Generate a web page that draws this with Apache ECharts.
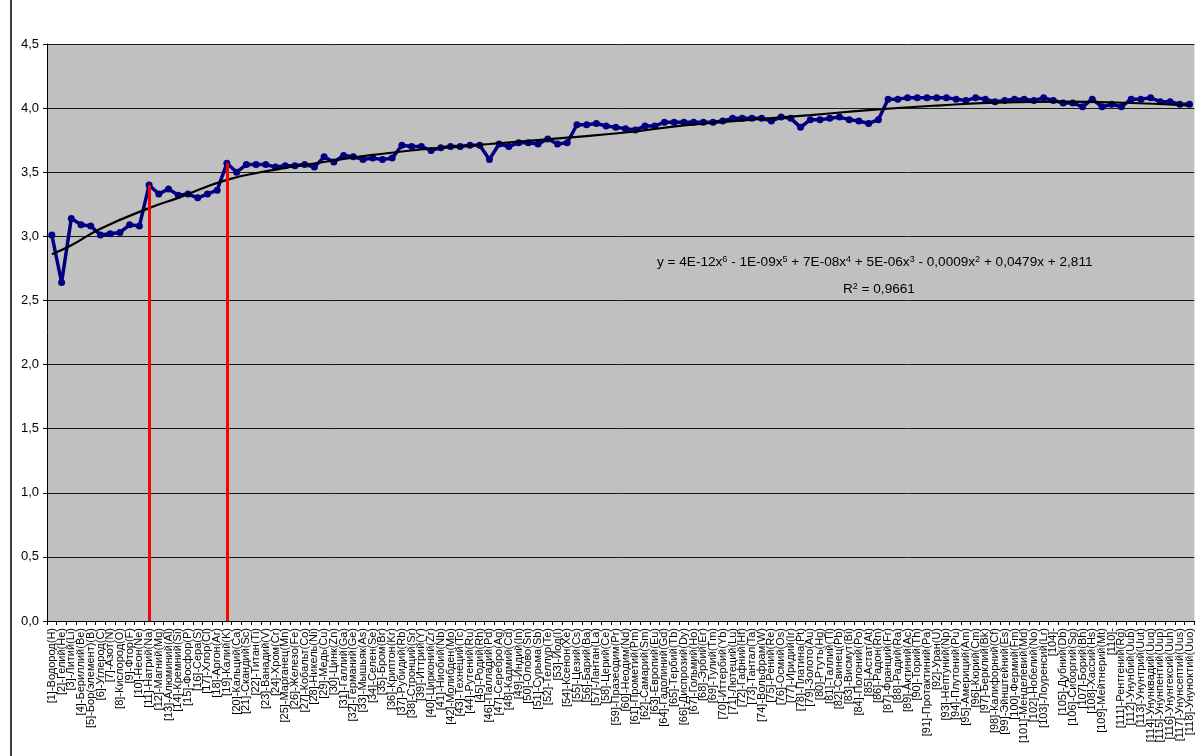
<!DOCTYPE html>
<html>
<head>
<meta charset="utf-8">
<script src="https://cdn.jsdelivr.net/npm/echarts@6/dist/echarts.min.js"></script>
<style>
html,body{margin:0;padding:0;background:#fff;}
#chart{width:1195px;height:756px;}
</style>
</head>
<body>
<div id="chart"></div>
<script>
var elementNames = [
"Водород(H)","Гелий(He)","Литий(Li)","Бериллий(Be)","Бор(элемент)(B)","Углерод(C)","Азот(N)","Кислород(O)","Фтор(F)","Неон(Ne)",
"Натрий(Na)","Магний(Mg)","Алюминий(Al)","Кремний(Si)","Фосфор(P)","Сера(S)","Хлор(Cl)","Аргон(Ar)","Калий(K)","Кальций(Ca)",
"Скандий(Sc)","Титан(Ti)","Ванадий(V)","Хром(Cr)","Марганец(Mn)","Железо(Fe)","Кобальт(Co)","Никель(Ni)","Медь(Cu)","Цинк(Zn)",
"Галлий(Ga)","Германий(Ge)","Мышьяк(As)","Селен(Se)","Бром(Br)","Криптон(Kr)","Рубидий(Rb)","Стронций(Sr)","Иттрий(Y)","Цирконий(Zr)",
"Ниобий(Nb)","Молибден(Mo)","Технеций(Tc)","Рутений(Ru)","Родий(Rh)","Палладий(Pd)","Серебро(Ag)","Кадмий(Cd)","Индий(In)","Олово(Sn)",
"Сурьма(Sb)","Теллур(Te)","Йод(I)","Ксенон(Xe)","Цезий(Cs)","Барий(Ba)","Лантан(La)","Церий(Ce)","Празеодим(Pr)","Неодим(Nd)",
"Прометий(Pm)","Самарий(Sm)","Европий(Eu)","Гадолиний(Gd)","Тербий(Tb)","Диспрозий(Dy)","Гольмий(Ho)","Эрбий(Er)","Тулий(Tm)","Иттербий(Yb)",
"Лютеций(Lu)","Гафний(Hf)","Тантал(Ta)","Вольфрам(W)","Рений(Re)","Осмий(Os)","Иридий(Ir)","Платина(Pt)","Золото(Au)","Ртуть(Hg)",
"Таллий(Tl)","Свинец(Pb)","Висмут(Bi)","Полоний(Po)","Астат(At)","Радон(Rn)","Франций(Fr)","Радий(Ra)","Актиний(Ac)","Торий(Th)",
"Протактиний(Pa)","Уран(U)","Нептуний(Np)","Плутоний(Pu)","Америций(Am)","Кюрий(Cm)","Берклий(Bk)","Калифорний(Cf)","Эйнштейний(Es)","Фермий(Fm)",
"Менделевий(Md)","Нобелий(No)","Лоуренсий(Lr)","","Дубний(Db)","Сиборгий(Sg)","Борий(Bh)","Хассий(Hs)","Мейтнерий(Mt)","",
"Рентгений(Rg)","Унунбий(Uub)","Унунтрий(Uut)","Унунквадий(Uuq)","Унунпентий(Uup)","Унунгексий(Uuh)","Унунсептий(Uus)","Унуноктий(Uuo)"
];
var values = [
3.01,2.64,3.14,3.09,3.08,3.01,3.02,3.03,3.09,3.08,
3.40,3.33,3.37,3.32,3.33,3.30,3.33,3.36,3.57,3.50,
3.56,3.56,3.56,3.54,3.55,3.55,3.56,3.54,3.62,3.58,
3.63,3.62,3.60,3.61,3.60,3.61,3.71,3.70,3.70,3.67,
3.69,3.70,3.70,3.71,3.71,3.60,3.72,3.70,3.73,3.73,
3.72,3.76,3.72,3.73,3.87,3.87,3.88,3.86,3.85,3.84,
3.83,3.86,3.86,3.89,3.89,3.89,3.89,3.89,3.89,3.90,
3.92,3.92,3.92,3.92,3.90,3.93,3.92,3.85,3.91,3.91,
3.92,3.93,3.91,3.90,3.88,3.91,4.07,4.07,4.08,4.08,
4.08,4.08,4.08,4.07,4.06,4.08,4.07,4.05,4.06,4.07,
4.07,4.06,4.08,4.06,4.04,4.04,4.01,4.07,4.01,4.03,
4.01,4.07,4.07,4.08,4.05,4.05,4.03,4.03
];
// trendline: element number -> value
var trendX = [1,3,6,11,14,19,24,29,34,40,46,54,60,66,73,79,85,92,99,105,112,118];
var trendY = [2.86,2.93,3.06,3.22,3.30,3.44,3.52,3.58,3.635,3.685,3.72,3.77,3.81,3.865,3.91,3.945,3.985,4.02,4.045,4.05,4.04,4.02];
// elements marked with red vertical lines
var markedElements = [11,19];
var yTicks = {min:0, max:4.5, interval:0.5};
// equation shown as rich text: {s|..} marks superscripts
var equationText = "y = 4E-12x{s|6} - 1E-09x{s|5} + 7E-08x{s|4} + 5E-06x{s|3} - 0,0009x{s|2} + 0,0479x + 2,811";
var r2Text = "R{s|2} = 0,9661";

var categories = elementNames.map(function(n,i){ return "[" + (i+1) + "]-" + n; });

var chart = echarts.init(document.getElementById('chart'));
var font = "'Liberation Sans', Arial, sans-serif";
var narrow = "'Liberation Sans Narrow', 'Liberation Sans', Arial, sans-serif";
var supStyle = {s:{fontSize:9,fontFamily:narrow,verticalAlign:'top',padding:[0,0,6,0],fill:'#000'}};
var option = {
  animation:false,
  backgroundColor:'#ffffff',
  grid:{left:47,right:0,top:44,bottom:135,show:true,backgroundColor:'#C0C0C0',borderWidth:0},
  xAxis:{
    type:'category',
    data:categories,
    boundaryGap:true,
    axisLine:{show:true,lineStyle:{color:'#000',width:1}},
    axisTick:{show:true,interval:0,length:4,lineStyle:{color:'#000'}},
    axisLabel:{interval:0,rotate:90,fontSize:11,color:'#000',fontFamily:font,margin:7},
    splitLine:{show:false}
  },
  yAxis:{
    type:'value',
    min:yTicks.min,max:yTicks.max,interval:yTicks.interval,
    axisLine:{show:true,lineStyle:{color:'#000',width:1}},
    axisTick:{show:true,length:4,lineStyle:{color:'#000'}},
    axisLabel:{fontSize:13,color:'#000',fontFamily:font,margin:8,
      formatter:function(v){return v.toFixed(1).replace('.',',');}},
    splitLine:{show:true,lineStyle:{color:'#1a1a1a',width:1}}
  },
  series:[
    {
      type:'line',
      data:values,
      symbol:'circle',symbolSize:7,
      lineStyle:{color:'#000080',width:3.5},
      itemStyle:{color:'#000080'},
      z:3,
      markLine:{
        silent:true,symbol:'none',
        label:{show:false},
        lineStyle:{color:'#FF0000',width:3,type:'solid'},
        z:10,
        data:markedElements.map(function(n){
          return [{coord:[categories[n-1],0]},{coord:[categories[n-1],values[n-1]]}];
        })
      }
    },
    {
      type:'line',
      data:trendX.map(function(x,i){return [x-1,trendY[i]];}),
      smooth:true,
      symbol:'none',
      lineStyle:{color:'#000',width:2.2},
      z:4
    }
  ],
  graphic:[
    {type:'line',shape:{x1:11,y1:0,x2:11,y2:756},style:{stroke:'#000',lineWidth:1.5}},
    {type:'text',left:657,top:255,style:{text:equationText,fontSize:13.6,fontFamily:narrow,fill:'#000',rich:supStyle}},
    {type:'text',left:843,top:282,style:{text:r2Text,fontSize:13.6,fontFamily:narrow,fill:'#000',rich:supStyle}}
  ]
};
chart.setOption(option);
</script>
</body>
</html>
